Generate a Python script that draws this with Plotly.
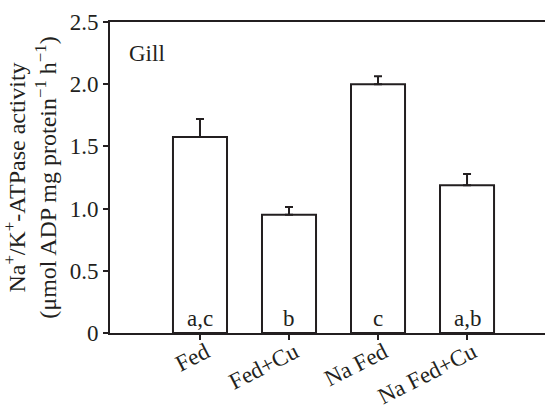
import plotly.graph_objects as go

categories = ["Fed", "Fed+Cu", "Na Fed", "Na Fed+Cu"]
means = [1.575, 0.951, 2.0, 1.187]
errors = [0.145, 0.062, 0.063, 0.091]
letters = ["a,c", "b", "c", "a,b"]
y_ticks = [0, 0.5, 1.0, 1.5, 2.0, 2.5]
y_tick_labels = ["0", "0.5", "1.0", "1.5", "2.0", "2.5"]

ink = "#231f20"
font = dict(family="Liberation Serif, Times New Roman, serif", size=23, color=ink)
title_font = dict(family="Liberation Serif, Times New Roman, serif", size=24, color=ink)

xpos = list(range(len(categories)))

fig = go.Figure()
fig.add_trace(go.Bar(
    x=xpos, y=means, width=0.607,
    marker=dict(color="white", line=dict(color=ink, width=2)),
    error_y=dict(type="data", array=errors, arrayminus=[0] * len(errors),
                 symmetric=False, color=ink, thickness=2, width=4),
    showlegend=False,
))

for xi, lab in zip(xpos, letters):
    fig.add_annotation(x=xi, y=0, text=lab, showarrow=False,
                       yanchor="bottom", yshift=0, font=font)

fig.add_annotation(xref="paper", yref="paper", x=0.038, y=0.9, text="Gill",
                   showarrow=False, xanchor="left", yanchor="middle", font=font)

fig.update_layout(
    width=545, height=406,
    margin=dict(l=110, r=0, t=22, b=73),
    paper_bgcolor="white", plot_bgcolor="white",
    font=font,
    xaxis=dict(
        range=[-1.011, 3.876], tickvals=xpos, ticktext=categories,
        tickangle=-27, ticks="outside", ticklen=5, tickwidth=1.5, tickcolor=ink,
        ticklabelstandoff=-10, ticklabelshift=6,
        showline=True, linecolor=ink, linewidth=2, mirror=True,
        showgrid=False, zeroline=False, tickfont=font, automargin=False,
    ),
    yaxis=dict(
        range=[0, 2.5], tickvals=y_ticks, ticktext=y_tick_labels,
        ticks="outside", ticklen=5, tickwidth=1.5, tickcolor=ink,
        showline=True, linecolor=ink, linewidth=2, mirror=False,
        showgrid=False, zeroline=False, tickfont=font, automargin=False,
        title=dict(text="Na<sup>+</sup>/K<sup>+</sup>-ATPase activity<br>(μmol ADP mg protein<sup>−1</sup> h<sup>−1</sup>)",
                   font=title_font, standoff=8),
    ),
)

fig.write_html("out.html")
